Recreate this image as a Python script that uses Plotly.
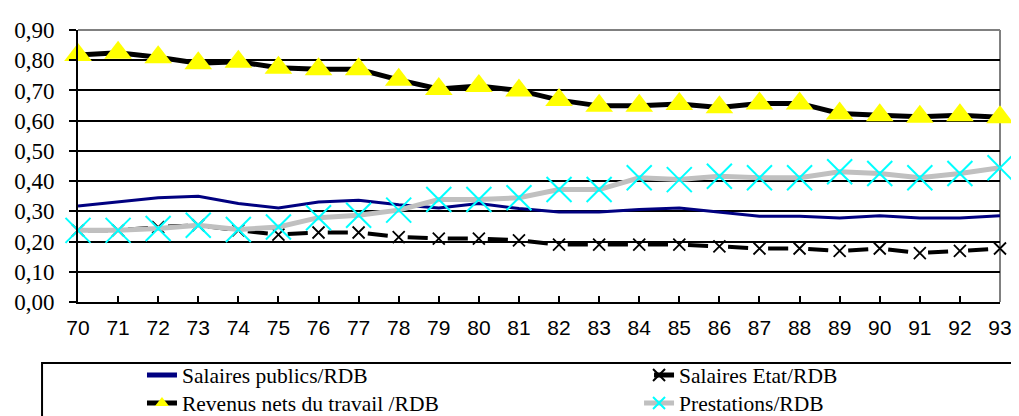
import plotly.graph_objects as go

years = list(range(70, 94))
year_labels = [str(y) for y in years]

salaires_publics = [0.318, 0.331, 0.345, 0.350, 0.326, 0.311, 0.331, 0.337, 0.322, 0.311, 0.326, 0.309,
                    0.298, 0.298, 0.306, 0.311, 0.298, 0.284, 0.284, 0.278, 0.285, 0.278, 0.278, 0.285]
salaires_etat = [0.237, 0.237, 0.248, 0.254, 0.237, 0.223, 0.230, 0.230, 0.215, 0.210, 0.210, 0.204,
                 0.190, 0.190, 0.190, 0.190, 0.184, 0.177, 0.177, 0.169, 0.177, 0.162, 0.169, 0.177]
revenus_travail = [0.817, 0.825, 0.810, 0.790, 0.795, 0.775, 0.770, 0.770, 0.735, 0.705, 0.715, 0.700,
                   0.668, 0.649, 0.649, 0.655, 0.644, 0.657, 0.657, 0.624, 0.618, 0.613, 0.618, 0.611]
prestations = [0.237, 0.237, 0.243, 0.254, 0.240, 0.248, 0.279, 0.287, 0.304, 0.339, 0.339, 0.345,
               0.372, 0.372, 0.411, 0.405, 0.416, 0.411, 0.411, 0.431, 0.425, 0.411, 0.425, 0.444]

names = ["Salaires publics/RDB", "Salaires Etat/RDB", "Revenus nets du travail /RDB", "Prestations/RDB"]

fig = go.Figure()
fig.add_trace(go.Scatter(x=years, y=salaires_publics, name=names[0], mode="lines",
                         line=dict(color="#000080", width=3), cliponaxis=False,
                         legend="legend"))
fig.add_trace(go.Scatter(x=years, y=salaires_etat, name=names[1], mode="lines+markers",
                         line=dict(color="black", width=4, dash="0px,10px,20.09px,10px"),
                         marker=dict(symbol="x-thin-open", size=12, color="black",
                                     line=dict(color="black", width=1.8)),
                         cliponaxis=False, legend="legend2"))
fig.add_trace(go.Scatter(x=years, y=revenus_travail, name=names[2], mode="lines+markers",
                         line=dict(color="black", width=5),
                         marker=dict(symbol="triangle-up", size=24, color="#FFFF00",
                                     line=dict(width=0)),
                         cliponaxis=False, legend="legend3"))
fig.add_trace(go.Scatter(x=years, y=prestations, name=names[3], mode="lines+markers",
                         line=dict(color="#C0C0C0", width=5),
                         marker=dict(symbol="x-thin-open", size=25, color="#00FFFF",
                                     line=dict(color="#00FFFF", width=2)),
                         cliponaxis=False, legend="legend4"))

legend_font = dict(family="Liberation Serif", size=21.5, color="black")


def leg(x, y):
    return dict(x=x, y=y, xanchor="left", yanchor="middle", itemsizing="constant",
                font=legend_font, bgcolor="rgba(0,0,0,0)", borderwidth=0)


col1, col2 = 0.0694, 0.6085
row1, row2 = -0.2684, -0.3713

fig.update_layout(
    width=1019, height=416,
    margin=dict(l=70, r=27, t=22, b=122, autoexpand=False),
    paper_bgcolor="white", plot_bgcolor="white",
    separators=", ",
    showlegend=True,
    legend=leg(col1, row1),
    legend2=leg(col2, row1),
    legend3=leg(col1, row2),
    legend4=leg(col2, row2),
    xaxis=dict(range=[70, 93], tickmode="array", tickvals=years, ticktext=year_labels,
               showgrid=False, zeroline=False, showline=True, linecolor="black", linewidth=2,
               ticks="inside", ticklen=6, tickwidth=1.5, tickcolor="black",
               ticklabelstandoff=6,
               tickfont=dict(family="Liberation Sans", size=21, color="black")),
    yaxis=dict(range=[0, 0.9], dtick=0.1, tick0=0, tickformat=".2f",
               showgrid=True, gridcolor="black", gridwidth=1.5, zeroline=False,
               showline=True, linecolor="black", linewidth=2,
               ticks="outside", ticklen=7, tickwidth=2, tickcolor="black",
               ticklabelstandoff=10,
               tickfont=dict(family="Liberation Serif", size=23, color="black")),
    shapes=[
        dict(type="line", xref="paper", yref="paper", x0=0, x1=1, y0=1, y1=1,
             line=dict(color="#808080", width=2), layer="between"),
        dict(type="line", xref="paper", yref="paper", x0=1, x1=1, y0=0, y1=1,
             line=dict(color="#808080", width=2), layer="between"),
        dict(type="rect", xref="paper", yref="paper", x0=-0.039, x1=1.06, y0=-0.55, y1=-0.224,
             line=dict(color="black", width=2), fillcolor="rgba(0,0,0,0)", layer="above"),
    ],
)

fig.write_html("out.html")
